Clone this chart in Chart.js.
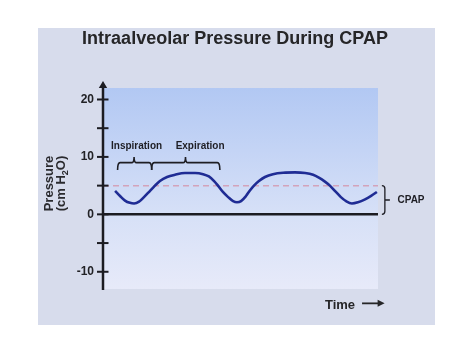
<!DOCTYPE html>
<html>
<head>
<meta charset="utf-8">
<script src="https://cdn.jsdelivr.net/npm/chart.js@4.4.1/dist/chart.umd.min.js"></script>
<style>
html,body{margin:0;padding:0;background:#fff;}
#wrap{width:474px;height:355px;}
</style>
</head>
<body>
<div id="wrap"><canvas id="c" width="474" height="355"></canvas></div>
<script>
// ---- data ----
const chartTitle = 'Intraalveolar Pressure During CPAP';
const timeVals = [4.4,6.2,8.0,9.8,11.3,13.1,14.9,17.1,18.9,20.7,23.3,26.2,29.8,33.5,36.4,38.5,40.4,41.8,43.6,45.5,47.3,48.7,50.2,52.0,53.5,54.9,56.7,58.9,61.8,65.5,69.8,73.5,76.4,78.5,80.7,82.5,84.7,86.5,88.4,90.5,92.7,95.3,97.5,99.6];
const pressureVals = [4.1,3.2,2.4,2.0,1.9,2.2,3.0,4.1,5.0,5.8,6.5,6.9,7.2,7.2,7.0,6.6,5.8,5.0,3.9,3.0,2.3,2.1,2.3,3.2,4.2,5.0,5.8,6.5,7.0,7.25,7.3,7.2,6.9,6.4,5.7,5.0,3.9,3.0,2.3,1.9,2.1,2.6,3.2,3.9];
const yTickValues = [-10,-5,0,5,10,15,20];
const yTickLabels = ['-10','','0','','10','','20'];
const cpapLevel = 5;
const phaseLabels = ['Inspiration','Expiration'];
const phaseStart = [5.3, 17.7];
const phaseMid = [11.3, 30.0];
const phaseEnd = [17.7, 42.5];
const phaseLabelX = [12.2, 35.3];
const yTitleLines = ['Pressure', '(cm H', '2', 'O)'];
const xTitle = 'Time';
const cpapLabel = 'CPAP';

const FONT = '"Liberation Sans", Arial, sans-serif';

const decor = {
  id: 'decor',
  beforeDraw(chart) {
    const ctx = chart.ctx, a = chart.chartArea;
    ctx.save();
    ctx.fillStyle = '#ffffff';
    ctx.fillRect(0, 0, chart.width, chart.height);
    ctx.fillStyle = '#d7dcec';
    ctx.fillRect(38, 28, 397, 297);
    const g = ctx.createLinearGradient(0, a.top, 0, a.bottom);
    g.addColorStop(0, '#b2c8f3');
    g.addColorStop(0.62, '#d6e0f7');
    g.addColorStop(1, '#e7eaf9');
    ctx.fillStyle = g;
    ctx.fillRect(a.left, a.top, a.right - a.left, a.bottom - a.top);
    ctx.restore();
  },
  beforeDatasetsDraw(chart) {
    const ctx = chart.ctx, a = chart.chartArea;
    const y = chart.scales.y;
    ctx.save();
    // CPAP dashed line
    ctx.strokeStyle = '#d3a3ba';
    ctx.lineWidth = 1.5;
    ctx.setLineDash([6, 4]);
    ctx.beginPath();
    ctx.moveTo(a.left, y.getPixelForValue(cpapLevel));
    ctx.lineTo(a.right, y.getPixelForValue(cpapLevel));
    ctx.stroke();
    ctx.setLineDash([]);
    // zero line
    ctx.strokeStyle = '#1c1c22';
    ctx.lineWidth = 2.5;
    ctx.beginPath();
    ctx.moveTo(a.left, y.getPixelForValue(0));
    ctx.lineTo(a.right, y.getPixelForValue(0));
    ctx.stroke();
    // y axis with arrow
    const ax = a.left;
    ctx.beginPath();
    ctx.moveTo(ax, a.bottom + 1);
    ctx.lineTo(ax, a.top - 1);
    ctx.stroke();
    ctx.fillStyle = '#1c1c22';
    ctx.beginPath();
    ctx.moveTo(ax, a.top - 7);
    ctx.lineTo(ax - 4.2, a.top);
    ctx.lineTo(ax + 4.2, a.top);
    ctx.closePath();
    ctx.fill();
    // crossing tick marks
    ctx.lineWidth = 2;
    yTickValues.forEach(v => {
      const py = y.getPixelForValue(v);
      ctx.beginPath();
      ctx.moveTo(ax - 6, py);
      ctx.lineTo(ax + 5.5, py);
      ctx.stroke();
    });
    ctx.restore();
  },
  afterDraw(chart) {
    const ctx = chart.ctx;
    const x = chart.scales.x, y = chart.scales.y;
    ctx.save();
    // title
    ctx.fillStyle = '#262628';
    ctx.font = 'bold 18px ' + FONT;
    ctx.textAlign = 'center';
    ctx.textBaseline = 'alphabetic';
    ctx.fillText(chartTitle, 235, 44);

    // y axis title (rotated)
    ctx.save();
    ctx.translate(53, 183.5);
    ctx.rotate(-Math.PI / 2);
    ctx.fillStyle = '#2a2a2e';
    ctx.font = 'bold 13px ' + FONT;
    ctx.textAlign = 'center';
    ctx.fillText(yTitleLines[0], 0, 0);
    ctx.restore();
    ctx.save();
    ctx.translate(65, 183.5);
    ctx.rotate(-Math.PI / 2);
    ctx.fillStyle = '#2a2a2e';
    ctx.textAlign = 'left';
    ctx.font = 'bold 13px ' + FONT;
    const w1 = ctx.measureText(yTitleLines[1]).width;
    const w3 = ctx.measureText(yTitleLines[3]).width;
    ctx.font = 'bold 9px ' + FONT;
    const w2 = ctx.measureText(yTitleLines[2]).width;
    let sx = -(w1 + w2 + w3) / 2;
    ctx.font = 'bold 13px ' + FONT;
    ctx.fillText(yTitleLines[1], sx, 0);
    ctx.font = 'bold 9px ' + FONT;
    ctx.fillText(yTitleLines[2], sx + w1, 3);
    ctx.font = 'bold 13px ' + FONT;
    ctx.fillText(yTitleLines[3], sx + w1 + w2, 0);
    ctx.restore();

    // phase brackets and labels
    ctx.strokeStyle = '#1e1e24';
    ctx.lineWidth = 1.6;
    ctx.fillStyle = '#1e1e24';
    ctx.font = 'bold 10px ' + FONT;
    ctx.textAlign = 'center';
    const yl = y.getPixelForValue(9.0), yb = y.getPixelForValue(7.7), yt = y.getPixelForValue(10.0);
    phaseLabels.forEach((lab, i) => {
      const x1 = x.getPixelForValue(phaseStart[i]);
      const xm = x.getPixelForValue(phaseMid[i]);
      const x2 = x.getPixelForValue(phaseEnd[i]);
      const r = 2.5;
      ctx.beginPath();
      ctx.moveTo(x1, yb);
      ctx.quadraticCurveTo(x1, yl, x1 + r, yl);
      ctx.lineTo(xm - r, yl);
      ctx.quadraticCurveTo(xm, yl, xm, yt);
      ctx.quadraticCurveTo(xm, yl, xm + r, yl);
      ctx.lineTo(x2 - r, yl);
      ctx.quadraticCurveTo(x2, yl, x2, yb);
      ctx.stroke();
      ctx.fillText(lab, x.getPixelForValue(phaseLabelX[i]), y.getPixelForValue(11.3));
    });

    // CPAP bracket
    const bx = x.getPixelForValue(102.5);
    const top = y.getPixelForValue(cpapLevel), bot = y.getPixelForValue(0);
    const mid = y.getPixelForValue(cpapLevel / 2);
    ctx.lineWidth = 1.3;
    ctx.beginPath();
    ctx.moveTo(bx - 3, top);
    ctx.quadraticCurveTo(bx, top, bx, top + 3);
    ctx.lineTo(bx, bot - 3);
    ctx.quadraticCurveTo(bx, bot, bx - 3, bot);
    ctx.moveTo(bx, mid);
    ctx.lineTo(bx + 5, mid);
    ctx.stroke();
    ctx.textAlign = 'center';
    ctx.fillText(cpapLabel, x.getPixelForValue(112), y.getPixelForValue(1.95));

    // Time arrow
    ctx.font = 'bold 13px ' + FONT;
    ctx.fillStyle = '#262628';
    ctx.fillText(xTitle, x.getPixelForValue(86.2), y.getPixelForValue(-16.4));
    const ay = y.getPixelForValue(-15.5);
    const ax1 = x.getPixelForValue(94.2), ax2 = x.getPixelForValue(102.4);
    ctx.strokeStyle = '#262628';
    ctx.lineWidth = 1.8;
    ctx.beginPath();
    ctx.moveTo(ax1, ay);
    ctx.lineTo(ax2 - 5, ay);
    ctx.stroke();
    ctx.beginPath();
    ctx.moveTo(ax2, ay);
    ctx.lineTo(ax2 - 7, ay - 3.5);
    ctx.lineTo(ax2 - 7, ay + 3.5);
    ctx.closePath();
    ctx.fill();
    ctx.restore();
  }
};

new Chart(document.getElementById('c'), {
  type: 'line',
  data: {
    datasets: [{
      data: timeVals.map((t, i) => ({ x: t, y: pressureVals[i] })),
      borderColor: '#1f2c94',
      borderWidth: 2.6,
      pointRadius: 0,
      tension: 0.4,
      cubicInterpolationMode: 'monotone',
      fill: false
    }]
  },
  options: {
    responsive: false,
    animation: false,
    devicePixelRatio: 1,
    layout: { padding: { left: 40, right: 96, top: 88, bottom: 66 } },
    plugins: { legend: { display: false }, title: { display: false }, tooltip: { enabled: false } },
    scales: {
      x: { type: 'linear', min: 0, max: 100, display: false },
      y: {
        type: 'linear', min: -13, max: 22,
        afterFit(scale) { scale.width = 63; },
        afterBuildTicks(scale) { scale.ticks = yTickValues.map(v => ({ value: v })); },
        grid: { display: false, drawTicks: false },
        border: { display: false },
        ticks: {
          padding: 9,
          color: '#222226',
          font: { family: FONT, size: 12, weight: 'bold' },
          callback(value) {
            const i = yTickValues.indexOf(value);
            return i >= 0 ? yTickLabels[i] : '';
          }
        }
      }
    }
  },
  plugins: [decor]
});
</script>
</body>
</html>
